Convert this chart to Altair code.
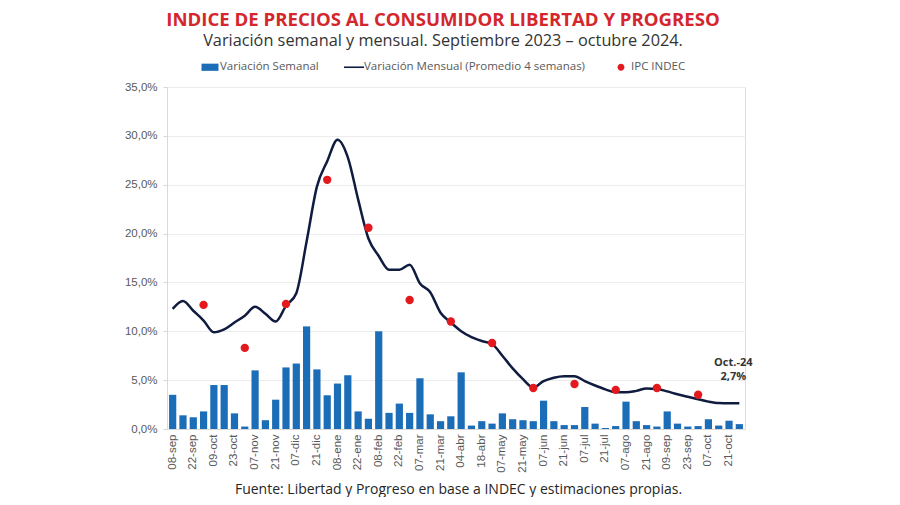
import altair as alt
import pandas as pd

# ---------------- data ----------------
weeks = [
    "08-sep", "15-sep", "22-sep", "29-sep", "09-oct", "16-oct", "23-oct", "30-oct",
    "07-nov", "14-nov", "21-nov", "28-nov", "07-dic", "14-dic", "21-dic", "28-dic",
    "08-ene", "15-ene", "22-ene", "29-ene", "08-feb", "15-feb", "22-feb", "29-feb",
    "07-mar", "14-mar", "21-mar", "28-mar", "04-abr", "11-abr", "18-abr", "25-abr",
    "07-may", "14-may", "21-may", "28-may", "07-jun", "14-jun", "21-jun", "28-jun",
    "07-jul", "14-jul", "21-jul", "28-jul", "07-ago", "14-ago", "21-ago", "28-ago",
    "09-sep", "16-sep", "23-sep", "30-sep", "07-oct", "14-oct", "21-oct", "28-oct",
]
labeled_weeks = weeks[::2]

weekly = [
    3.5, 1.4, 1.2, 1.8, 4.5, 4.5, 1.6, 0.25, 6.0, 0.9,
    3.0, 6.3, 6.7, 10.5, 6.1, 3.45, 4.65, 5.5, 1.8, 1.05,
    10.0, 1.65, 2.6, 1.65, 5.2, 1.5, 0.8, 1.3, 5.8, 0.35,
    0.8, 0.55, 1.6, 1.0, 0.9, 0.8, 2.9, 0.8, 0.4, 0.4,
    2.25, 0.55, 0.1, 0.3, 2.8, 0.8, 0.4, 0.25, 1.8, 0.55,
    0.25, 0.3, 1.0, 0.35, 0.85, 0.5,
]

monthly = [
    12.3, 13.1, 12.1, 11.1, 9.9, 10.2, 10.9, 11.6, 12.5, 11.8,
    11.0, 12.6, 13.9, 19.2, 24.8, 27.4, 29.6, 27.8, 23.5, 19.5,
    17.7, 16.3, 16.3, 16.8, 14.9, 14.0, 11.9, 10.9, 10.0, 9.4,
    9.0, 8.7, 7.5, 6.2, 5.1, 4.25, 4.9, 5.25, 5.4, 5.4,
    4.9, 4.45, 4.05, 3.75, 3.75, 3.9, 4.15, 4.1, 3.85, 3.55,
    3.3, 3.05, 2.8, 2.65, 2.63, 2.63,
]

ipc_weeks = ["29-sep", "30-oct", "28-nov", "28-dic", "29-ene", "29-feb", "28-mar",
             "25-abr", "28-may", "28-jun", "28-jul", "28-ago", "30-sep"]
ipc_values = [12.7, 8.3, 12.8, 25.5, 20.6, 13.2, 11.0, 8.8, 4.2, 4.6, 4.0, 4.2, 3.5]

series_names = ["Variación Semanal", "Variación Mensual (Promedio 4 semanas)", "IPC INDEC"]
series_colors = ["#1c6db8", "#0f1b3f", "#e3191e"]

annot_week = ["28-oct"]
annot_value = [2.7]
annot_text = ["Oct.-24\n2,7%"]

title_text = "INDICE DE PRECIOS AL CONSUMIDOR LIBERTAD Y PROGRESO"
subtitle_text = "Variación semanal y mensual. Septiembre 2023 – octubre 2024."
source_text = "Fuente: Libertad y Progreso en base a INDEC y estimaciones propias."

# ---------------- tables ----------------
df_week = pd.DataFrame({
    "semana": weeks,
    "semanal": weekly,
    "mensual": monthly,
})
df_week["serie_b"] = series_names[0]
df_week["serie_l"] = series_names[1]

df_ipc = pd.DataFrame({"semana": ipc_weeks, "ipc": ipc_values})
df_ipc["serie"] = series_names[2]

df_annot = pd.DataFrame({"semana": annot_week, "valor": annot_value, "txt": annot_text})

FONT = "Open Sans"

color_scale = alt.Scale(domain=series_names, range=series_colors)

x_enc = alt.X(
    "semana:N",
    sort=weeks,
    scale=alt.Scale(paddingInner=0.3, paddingOuter=0.2),
    axis=alt.Axis(
        values=labeled_weeks,
        labelAngle=270,
        labelFontSize=11.5,
        labelColor="#595959",
        labelPadding=5,
        ticks=False,
        domainColor="#d9d9d9",
        title=source_text,
        titleFont=FONT,
        titleFontSize=14,
        titleFontWeight="normal",
        titleColor="#262626",
        titleBaseline="alphabetic",
        titleY=64,
        titleX=291,
    ),
)

y_scale = alt.Scale(domain=[0, 35])

symbol_expr = (
    "datum.value === 'IPC INDEC' ? "
    "'M0.34,0A0.34,0.34,0,1,1,-0.34,0A0.34,0.34,0,1,1,0.34,0Z' : "
    "(datum.value === 'Variación Semanal' ? 'M-0.85,-0.36H0.85V0.36H-0.85Z' : "
    "'M-1,-0.08H1V0.08H-1Z')"
)

bars = alt.Chart(df_week).mark_bar().encode(
    x=x_enc,
    y=alt.Y(
        "semanal:Q",
        scale=y_scale,
        axis=alt.Axis(
            values=[0, 5, 10, 15, 20, 25, 30, 35],
            labelExpr="replace(format(datum.value, '.1f'), '.', ',') + '%'",
            title=None,
            tickSize=4,
            tickColor="#d9d9d9",
            domainColor="#d9d9d9",
            gridColor="#ececec",
            labelPadding=6,
            labelFontSize=11.5,
            labelColor="#595959",
        ),
    ),
    color=alt.Color(
        "serie_b:N",
        scale=color_scale,
        legend=alt.Legend(
            title=None,
            orient="none",
            direction="horizontal",
            legendX=33,
            legendY=-30,
            symbolSize=400,
            symbolType=alt.ExprRef(expr=symbol_expr),
            symbolStrokeWidth=0,
            labelFont=FONT,
            labelFontSize=11.5,
            labelColor="#595959",
            labelOffset=0,
            labelLimit=400,
            columnPadding=25,
            values=series_names,
        ),
    ),
)

line = alt.Chart(df_week).mark_line(
    interpolate="monotone", strokeWidth=2.5
).encode(
    x=alt.X("semana:N", sort=weeks),
    y=alt.Y("mensual:Q", scale=y_scale),
    color=alt.Color("serie_l:N", scale=color_scale, legend=None),
)

dots = alt.Chart(df_ipc).mark_circle(size=70, opacity=1).encode(
    x=alt.X("semana:N", sort=weeks),
    y=alt.Y("ipc:Q", scale=y_scale),
    color=alt.Color("serie:N", scale=color_scale, legend=None),
)

annot = alt.Chart(df_annot).mark_text(
    font=FONT,
    fontSize=11,
    fontWeight="bold",
    color="#333333",
    lineBreak="\n",
    lineHeight=14,
    baseline="bottom",
    align="center",
    dx=-6,
    dy=-35,
).encode(
    x=alt.X("semana:N", sort=weeks),
    y=alt.Y("valor:Q", scale=y_scale),
    text="txt:N",
)

chart = (
    alt.layer(bars, line, dots, annot)
    .properties(
        width=578,
        height=342,
        autosize=alt.AutoSizeParams(type="none"),
        padding={"left": 159, "top": 79, "right": 147, "bottom": 68},
        title=alt.TitleParams(
            text=title_text,
            subtitle=subtitle_text,
            anchor="middle",
            dx=-13,
            offset=8,
            subtitlePadding=3,
            font=FONT,
            fontSize=18.6,
            fontWeight="bold",
            color="#d4262c",
            subtitleFont=FONT,
            subtitleFontSize=16.3,
            subtitleColor="#333333",
        ),
    )
    .configure_view(strokeWidth=0)
    .configure_axis(labelFont=FONT)
    .configure(background="white")
)

chart.save("out.html", embed_options={"renderer": "svg", "actions": False})
